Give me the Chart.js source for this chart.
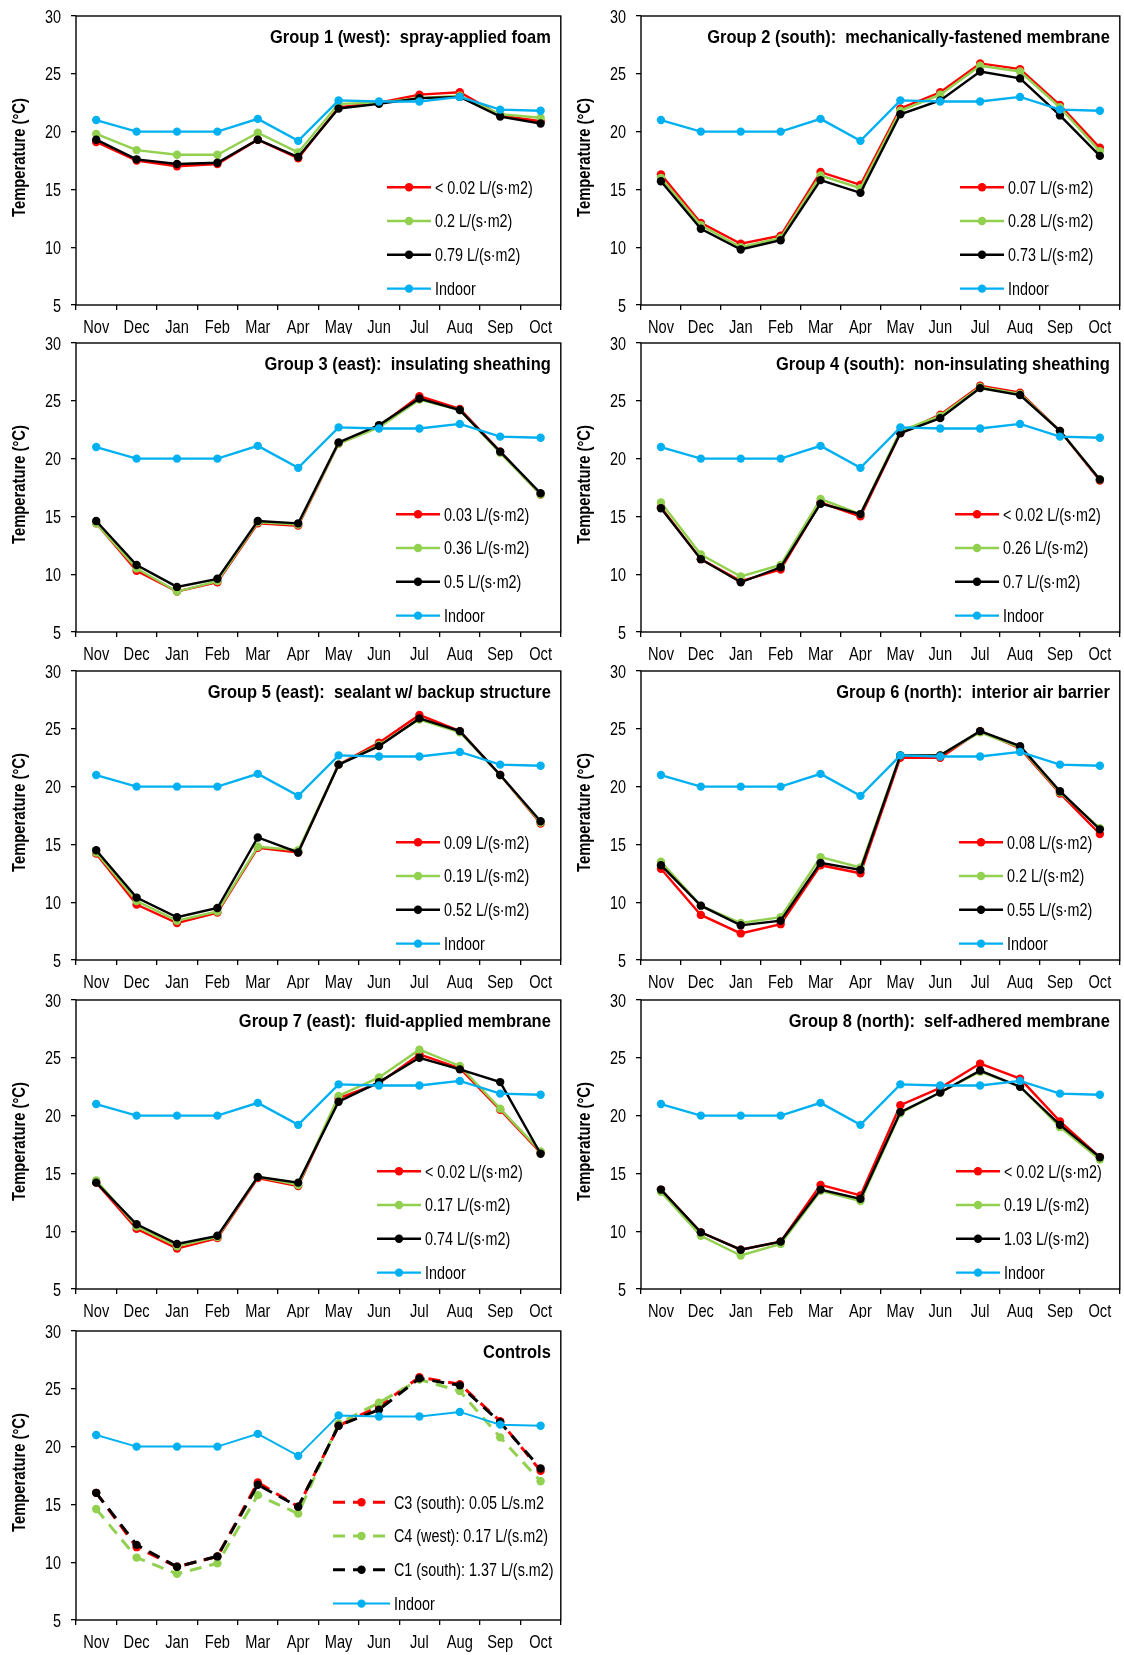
<!DOCTYPE html>
<html>
<head>
<meta charset="utf-8">
<script src="https://cdn.jsdelivr.net/npm/chart.js@4.4.0/dist/chart.umd.min.js"></script>
<style>
  body { margin: 0; background: #fff; width: 1124px; height: 1655px; position: relative; overflow: hidden; }
  canvas { position: absolute; }
</style>
</head>
<body>
<script>
// months on the x axis
const months = ['Nov', 'Dec', 'Jan', 'Feb', 'Mar', 'Apr', 'May', 'Jun', 'Jul', 'Aug', 'Sep', 'Oct'];

// indoor temperature, same in every panel
const indoor = [21.0, 20.0, 20.0, 20.0, 21.1, 19.2, 22.7, 22.6, 22.6, 23.0, 21.9, 21.8];

// Group 1 (west): spray-applied foam
const g1Labels = ['< 0.02 L/(s·m2)', '0.2 L/(s·m2)', '0.79 L/(s·m2)'];
const g1Red   = [19.1, 17.5, 17.0, 17.2, 19.3, 17.7, 22.1, 22.5, 23.2, 23.4, 21.4, 20.9];
const g1Green = [19.8, 18.4, 18.0, 18.0, 19.9, 18.2, 22.4, 22.5, 22.9, 23.1, 21.5, 21.2];
const g1Black = [19.3, 17.6, 17.2, 17.3, 19.3, 17.8, 22.0, 22.4, 22.9, 23.0, 21.3, 20.7];

// Group 2 (south): mechanically-fastened membrane
const g2Labels = ['0.07 L/(s·m2)', '0.28 L/(s·m2)', '0.73 L/(s·m2)'];
const g2Red   = [16.3, 12.1, 10.3, 11.0, 16.5, 15.4, 22.0, 23.4, 25.9, 25.4, 22.3, 18.6];
const g2Green = [16.0, 11.9, 10.0, 10.8, 16.2, 15.1, 21.8, 23.2, 25.7, 25.2, 22.1, 18.3];
const g2Black = [15.7, 11.6, 9.8, 10.6, 15.8, 14.7, 21.5, 22.7, 25.2, 24.6, 21.4, 17.9];

// Group 3 (east): insulating sheathing
const g3Labels = ['0.03 L/(s·m2)', '0.36 L/(s·m2)', '0.5 L/(s·m2)'];
const g3Red   = [14.4, 10.3, 8.5, 9.3, 14.4, 14.2, 21.3, 22.8, 25.4, 24.3, 20.6, 16.9];
const g3Green = [14.4, 10.5, 8.5, 9.4, 14.5, 14.3, 21.3, 22.7, 25.1, 24.2, 20.5, 16.9];
const g3Black = [14.6, 10.8, 8.9, 9.6, 14.6, 14.4, 21.4, 22.9, 25.2, 24.2, 20.6, 17.0];

// Group 4 (south): non-insulating sheathing
const g4Labels = ['< 0.02 L/(s·m2)', '0.26 L/(s·m2)', '0.7 L/(s·m2)'];
const g4Red   = [15.8, 11.3, 9.4, 10.4, 16.2, 15.0, 22.2, 23.8, 26.3, 25.7, 22.4, 18.1];
const g4Green = [16.2, 11.7, 9.8, 10.8, 16.5, 15.2, 22.4, 23.7, 26.2, 25.6, 22.4, 18.2];
const g4Black = [15.7, 11.3, 9.3, 10.6, 16.1, 15.2, 22.2, 23.5, 26.1, 25.5, 22.4, 18.2];

// Group 5 (east): sealant w/ backup structure
const g5Labels = ['0.09 L/(s·m2)', '0.19 L/(s·m2)', '0.52 L/(s·m2)'];
const g5Red   = [14.2, 9.8, 8.2, 9.1, 14.7, 14.3, 21.9, 23.8, 26.2, 24.8, 21.0, 16.8];
const g5Green = [14.3, 10.1, 8.4, 9.2, 14.8, 14.5, 21.9, 23.6, 25.8, 24.7, 21.0, 16.9];
const g5Black = [14.5, 10.4, 8.7, 9.5, 15.6, 14.3, 21.9, 23.5, 25.9, 24.8, 21.0, 17.0];

// Group 6 (north): interior air barrier
const g6Labels = ['0.08 L/(s·m2)', '0.2 L/(s·m2)', '0.55 L/(s·m2)'];
const g6Red   = [12.9, 8.9, 7.3, 8.1, 13.2, 12.5, 22.5, 22.5, 24.8, 23.3, 19.4, 15.9];
const g6Green = [13.5, 9.7, 8.2, 8.7, 13.9, 13.0, 22.7, 22.7, 24.7, 23.4, 19.5, 16.4];
const g6Black = [13.2, 9.7, 8.0, 8.4, 13.4, 12.8, 22.7, 22.7, 24.8, 23.5, 19.6, 16.3];

// Group 7 (east): fluid-applied membrane
const g7Labels = ['< 0.02 L/(s·m2)', '0.17 L/(s·m2)', '0.74 L/(s·m2)'];
const g7Red   = [14.2, 10.2, 8.5, 9.4, 14.6, 13.9, 21.5, 22.8, 25.3, 24.1, 20.5, 16.8];
const g7Green = [14.4, 10.4, 8.7, 9.5, 14.7, 14.0, 21.7, 23.3, 25.7, 24.3, 20.6, 16.9];
const g7Black = [14.2, 10.6, 8.9, 9.6, 14.7, 14.2, 21.2, 22.9, 25.0, 24.0, 22.9, 16.7];

// Group 8 (north): self-adhered membrane
const g8Labels = ['< 0.02 L/(s·m2)', '0.19 L/(s·m2)', '1.03 L/(s·m2)'];
const g8Red   = [13.6, 9.9, 8.4, 9.1, 14.0, 13.1, 20.9, 22.4, 24.5, 23.2, 19.5, 16.4];
const g8Green = [13.4, 9.6, 7.9, 8.9, 13.5, 12.6, 20.2, 22.0, 23.8, 22.5, 19.0, 16.2];
const g8Black = [13.6, 9.9, 8.4, 9.1, 13.6, 12.8, 20.3, 22.0, 23.9, 22.5, 19.2, 16.4];

// Controls
const ctrlLabels = ['C3 (south): 0.05 L/s.m2', 'C4 (west): 0.17 L/(s.m2)', 'C1 (south): 1.37 L/(s.m2)'];
const c3 = [16.0, 11.3, 9.6, 10.5, 16.9, 14.8, 21.8, 23.5, 26.0, 25.4, 22.2, 17.9];
const c4 = [14.6, 10.4, 9.0, 9.9, 15.8, 14.2, 22.0, 23.8, 25.8, 24.8, 20.8, 17.0];
const c1 = [16.0, 11.5, 9.6, 10.5, 16.7, 14.8, 21.8, 23.2, 25.9, 25.3, 22.1, 18.1];

const yTicks = [5, 10, 15, 20, 25, 30];
const yTitle = 'Temperature (°C)';

const RED = '#FF0000', GREEN = '#92D050', BLACK = '#000000', BLUE = '#00B0F0';
const FONT = "'Liberation Sans', Arial, sans-serif";

// panel layout: column, row, title, series, legend offset from plot left
const panels = [
  { col: 0, row: 0, title: 'Group 1 (west):  spray-applied foam', labels: g1Labels, series: [g1Red, g1Green, g1Black], legX: 311 },
  { col: 1, row: 0, title: 'Group 2 (south):  mechanically-fastened membrane', labels: g2Labels, series: [g2Red, g2Green, g2Black], legX: 319 },
  { col: 0, row: 1, title: 'Group 3 (east):  insulating sheathing', labels: g3Labels, series: [g3Red, g3Green, g3Black], legX: 320 },
  { col: 1, row: 1, title: 'Group 4 (south):  non-insulating sheathing', labels: g4Labels, series: [g4Red, g4Green, g4Black], legX: 314 },
  { col: 0, row: 2, title: 'Group 5 (east):  sealant w/ backup structure', labels: g5Labels, series: [g5Red, g5Green, g5Black], legX: 320 },
  { col: 1, row: 2, title: 'Group 6 (north):  interior air barrier', labels: g6Labels, series: [g6Red, g6Green, g6Black], legX: 318 },
  { col: 0, row: 3, title: 'Group 7 (east):  fluid-applied membrane', labels: g7Labels, series: [g7Red, g7Green, g7Black], legX: 301 },
  { col: 1, row: 3, title: 'Group 8 (north):  self-adhered membrane', labels: g8Labels, series: [g8Red, g8Green, g8Black], legX: 315 },
  { col: 0, row: 4, title: 'Controls', labels: ctrlLabels, series: [c3, c4, c1], legX: 257, dashed: true }
];

const colLeft = [0, 565];
const colWidth = [565, 559];
const colPadRight = [2, 2];
const rowPlotTop = [16, 343, 671, 1000, 1331];
const rowAxisH = [29, 29, 29, 29, 36];   // bottom row is not cut by a panel below
const PLOT_H = 289, TOP_PAD = 16, Y_AXIS_W = 76;

Chart.defaults.font.family = FONT;
Chart.defaults.color = '#000';

// no narrow font installed, so squeeze text horizontally
function narrowText(ctx, text, x, y, o) {
  ctx.save();
  ctx.translate(x, y);
  if (o.rotate) ctx.rotate(o.rotate);
  ctx.scale(o.sx, 1);
  ctx.font = o.font;
  ctx.textAlign = o.align;
  ctx.textBaseline = o.baseline;
  ctx.fillStyle = '#000';
  ctx.fillText(text, 0, 0);
  ctx.restore();
}

const framePlugin = {
  id: 'frame',
  beforeDatasetsDraw(chart) {
    const a = chart.chartArea, ctx = chart.ctx;
    ctx.save();
    ctx.strokeStyle = '#000';
    ctx.lineWidth = 1.4;
    ctx.strokeRect(a.left, a.top, a.right - a.left, a.bottom - a.top);
    ctx.restore();
  }
};

const axisTextPlugin = {
  id: 'axisText',
  afterDraw(chart) {
    const a = chart.chartArea, ctx = chart.ctx;
    const xs = chart.scales.x, ys = chart.scales.y;
    xs.ticks.forEach((t, i) => {
      narrowText(ctx, months[i], xs.getPixelForTick(i), a.bottom + 28,
        { font: '18.5px ' + FONT, sx: 0.79, align: 'center', baseline: 'alphabetic' });
    });
    yTicks.forEach(v => {
      narrowText(ctx, String(v), a.left - 15, ys.getPixelForValue(v) + 6.5,
        { font: '18px ' + FONT, sx: 0.8, align: 'right', baseline: 'alphabetic' });
    });
    narrowText(ctx, yTitle, 20, (a.top + a.bottom) / 2 - 3,
      { font: 'bold 18px ' + FONT, sx: 0.82, align: 'center', baseline: 'middle', rotate: -Math.PI / 2 });
  }
};

const titlePlugin = {
  id: 'panelTitle',
  afterDraw(chart, args, opts) {
    const a = chart.chartArea;
    narrowText(chart.ctx, opts.text, a.right - 10, a.top + 27,
      { font: 'bold 18.5px ' + FONT, sx: 0.89, align: 'right', baseline: 'alphabetic' });
  }
};

const legendPlugin = {
  id: 'panelLegend',
  afterDraw(chart, args, opts) {
    const a = chart.chartArea, ctx = chart.ctx;
    const sets = chart.data.datasets;
    const gap = 33.8;
    sets.forEach((ds, i) => {
      const y = a.bottom - 16.4 - (sets.length - 1 - i) * gap;
      const x0 = a.left + opts.x;
      const len = opts.len;
      ctx.save();
      ctx.strokeStyle = ds.borderColor;
      ctx.lineWidth = ds.borderWidth;
      ctx.setLineDash(ds.borderDash || []);
      ctx.beginPath();
      ctx.moveTo(x0, y);
      ctx.lineTo(x0 + len, y);
      ctx.stroke();
      ctx.setLineDash([]);
      ctx.fillStyle = ds.pointBackgroundColor;
      ctx.beginPath();
      ctx.arc(x0 + len / 2, y, ds.pointRadius, 0, Math.PI * 2);
      ctx.fill();
      ctx.restore();
      narrowText(ctx, ds.label, x0 + len + 4, y + 6.3,
        { font: '17.5px ' + FONT, sx: 0.82, align: 'left', baseline: 'alphabetic' });
    });
  }
};

panels.forEach(p => {
  const canvas = document.createElement('canvas');
  const w = colWidth[p.col];
  const axisH = rowAxisH[p.row];
  const h = TOP_PAD + PLOT_H + axisH;
  canvas.width = w;
  canvas.height = h;
  canvas.style.width = w + 'px';
  canvas.style.height = h + 'px';
  canvas.style.left = colLeft[p.col] + 'px';
  canvas.style.top = (rowPlotTop[p.row] - TOP_PAD) + 'px';
  document.body.appendChild(canvas);

  const colors = [RED, GREEN, BLACK];
  const datasets = p.series.map((vals, i) => ({
    label: p.labels[i],
    data: vals,
    borderColor: colors[i],
    backgroundColor: colors[i],
    pointBackgroundColor: colors[i],
    pointBorderWidth: 0,
    pointRadius: 4.2,
    borderWidth: p.dashed ? 3 : 2.4,
    borderDash: p.dashed ? [12, 8] : [],
    order: 3 - i
  }));
  datasets.push({
    label: 'Indoor',
    data: indoor,
    borderColor: BLUE,
    backgroundColor: BLUE,
    pointBackgroundColor: BLUE,
    pointBorderWidth: 0,
    pointRadius: 4.2,
    borderWidth: p.dashed ? 2 : 2.4,
    borderDash: [],
    order: 0
  });

  new Chart(canvas, {
    type: 'line',
    data: { labels: months, datasets: datasets },
    options: {
      responsive: false,
      devicePixelRatio: 1,
      animation: false,
      layout: { padding: { top: TOP_PAD, right: colPadRight[p.col], left: 0, bottom: 0 } },
      plugins: {
        legend: { display: false },
        tooltip: { enabled: false },
        panelTitle: { text: p.title },
        panelLegend: { x: p.legX, len: p.dashed ? 57 : 44 }
      },
      scales: {
        x: {
          type: 'category',
          offset: true,
          grid: { offset: true, drawOnChartArea: false, drawTicks: true, tickLength: 5, color: '#000', lineWidth: 1.3 },
          border: { display: false },
          ticks: { display: false, autoSkip: false },
          afterFit(scale) {
            scale.height = axisH;
            scale.paddingLeft = 0;
            scale.paddingRight = 0;
          }
        },
        y: {
          min: 5,
          max: 30,
          afterBuildTicks(scale) { scale.ticks = yTicks.map(v => ({ value: v })); },
          grid: { drawOnChartArea: false, drawTicks: true, tickLength: 5, color: '#000', lineWidth: 1.3 },
          border: { display: false },
          ticks: { display: false },
          afterFit(scale) {
            scale.width = Y_AXIS_W;
            scale.paddingTop = 0;
            scale.paddingBottom = 0;
          }
        }
      }
    },
    plugins: [framePlugin, axisTextPlugin, titlePlugin, legendPlugin]
  });
});
</script>
</body>
</html>
